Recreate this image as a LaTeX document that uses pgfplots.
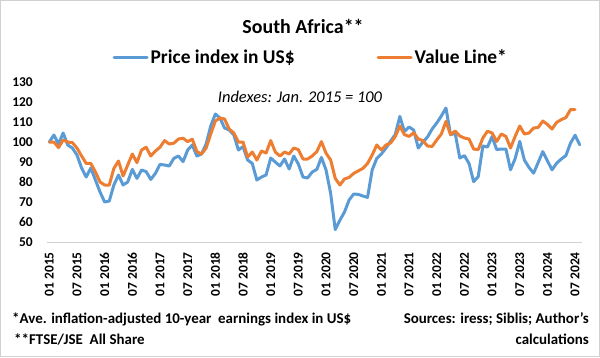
\documentclass[border=0pt]{standalone}
\usepackage{pgfplots}
\pgfplotsset{compat=1.18}
\usepackage{pgfplotstable}
\usepackage{fontspec}
\setmainfont{Carlito}
\definecolor{xblue}{HTML}{5B9BD5}
\definecolor{xorange}{HTML}{ED7D31}
\pgfplotstableread{
i v
0 100
1 103.5
2 99
3 104.5
4 98.5
5 97
6 93.5
7 87
8 82.5
9 87
10 81
11 75
12 70
13 70.5
14 78.5
15 83.5
16 78.5
17 80
18 86.3
19 81.8
20 86
21 85.2
22 81.3
23 84.3
24 88.8
25 88.5
26 88
27 91.8
28 93
29 90.2
30 96
31 98.5
32 93
33 94
34 99
35 108
36 114
37 112
38 107
39 106
40 103.6
41 96
42 97.7
43 91
44 89.3
45 81
46 82.5
47 83.5
48 92
49 90
50 88
51 91.5
52 86.5
53 93
54 89
55 82.5
56 82
57 85
58 86.3
59 92.3
60 86
61 74.3
62 56.2
63 60.9
64 65
65 71
66 74
67 73.8
68 73
69 72.3
70 86
71 91.8
72 94
73 97
74 100.5
75 103.7
76 112.8
77 105.3
78 107.5
79 106
80 97
81 100
82 102.5
83 106.5
84 109.5
85 113
86 117
87 103.6
88 104.4
89 92
90 93.2
91 89.3
92 80.2
93 82.7
94 98
95 97.5
96 102.7
97 96.2
98 96.5
99 96.5
100 86.1
101 91.7
102 100.3
103 91
104 87.3
105 84.4
106 89.8
107 95.2
108 90.6
109 86.1
110 89.4
111 91.5
112 93.2
113 99.4
114 103.4
115 98.6
}\pricetable
\pgfplotstableread{
i v
0 100
1 100
2 97.2
3 101
4 100
5 99.7
6 97
7 93
8 89.3
9 89.3
10 85
11 80
12 78.5
13 78.5
14 86.8
15 90.5
16 83
17 88.5
18 94
19 89.7
20 96
21 97.4
22 93
23 95.5
24 97.4
25 100.7
26 99
27 99.4
28 101.5
29 101.9
30 100.2
31 101.4
32 95.2
33 94
34 97
35 104
36 110.5
37 112
38 111.5
39 106.5
40 104.5
41 100
42 100
43 92.5
44 95
45 91
46 95.5
47 94.5
48 100.7
49 95
50 93
51 95
52 94
53 97
54 96.2
55 91.5
56 91.5
57 93
58 95.2
59 100.2
60 94.4
61 91
62 81.8
63 78.5
64 81.5
65 82.3
66 84.3
67 85.6
68 86.8
69 89.3
70 93.5
71 98.5
72 96
73 98.5
74 99.5
75 102.7
76 108
77 103.7
78 102.8
79 104.6
80 101.5
81 100.7
82 98
83 97.8
84 101
85 104
86 110.3
87 103.7
88 105.5
89 103
90 102
91 101.5
92 96.5
93 96.2
94 102
95 105.4
96 104.5
97 100.3
98 104
99 102.8
100 97
101 102.8
102 108
103 104
104 104.5
105 107
106 107.3
107 110.5
108 108.8
109 106.5
110 109.8
111 111.2
112 112.2
113 116.2
114 116.2
}\valuetable
\begin{document}
\begin{tikzpicture}[x=1bp,y=1bp]
\path[use as bounding box] (0,0) rectangle (600,-357);
\draw[black!18, line width=1bp] (0.5,-0.5) rectangle (599.5,-356.5);
\begin{axis}[
  at={(47bp,-242bp)}, anchor=south west,
  scale only axis, width=535bp, height=160bp,
  xmin=-0.5, xmax=115.5, ymin=50, ymax=130,
  axis x line*=bottom, axis y line*=left,
  x axis line style={draw=black!18, line width=0.75bp, -},
  y axis line style={draw=none, -},
  major tick length=0pt,
  xtick={0,6,...,114},
  xticklabels={01 2015,07 2015,01 2016,07 2016,01 2017,07 2017,01 2018,07 2018,01 2019,07 2019,01 2020,07 2020,01 2021,07 2021,01 2022,07 2022,01 2023,07 2023,01 2024,07 2024},
  ytick={50,60,...,130},
  /pgf/number format/assume math mode=true,
  tick label style={font=\bfseries\fontsize{13.5}{13.5}\selectfont, inner sep=0pt},
  xticklabel style={rotate=90, anchor=east},
  xticklabel shift=10bp,
  yticklabel shift=14bp,
  clip=false,
  legend columns=2,
  legend style={at={(0.493,1.156)}, anchor=center, draw=none, fill=none,
    font=\bfseries\fontsize{19.5}{19.5}\selectfont,
    /tikz/every even column/.append style={column sep=80bp}},
  legend image code/.code={\draw[#1, line width=3bp] (0bp,0bp) -- (33bp,0bp);},
]
\addplot[xblue, line width=3bp, line join=round, line cap=round] table[x=i, y=v] {\pricetable};
\addlegendentry{Price index in US\$}
\addplot[xorange, line width=3bp, line join=round, line cap=round] table[x=i, y=v] {\valuetable};
\addlegendentry{Value Line*}
\end{axis}
\node[font=\bfseries\fontsize{20}{20}\selectfont] at (303,-26) {South Africa**};
\node[font=\itshape\fontsize{16.5}{16.5}\selectfont] at (300,-97) {Indexes: Jan. 2015 = 100};
\node[font=\bfseries\fontsize{15}{15}\selectfont, anchor=west, inner sep=0pt] at (12,-319) {*Ave. inflation-adjusted 10-year\ \ earnings index in US\$};
\node[font=\bfseries\fontsize{15}{15}\selectfont, anchor=west, inner sep=0pt] at (14,-339) {**FTSE/JSE\ \ All Share};
\node[font=\bfseries\fontsize{15}{15}\selectfont, anchor=east, inner sep=0pt] at (589,-319) {Sources: iress; Siblis; Author's};
\node[font=\bfseries\fontsize{15}{15}\selectfont, anchor=east, inner sep=0pt] at (589,-339) {calculations};
\end{tikzpicture}
\end{document}
